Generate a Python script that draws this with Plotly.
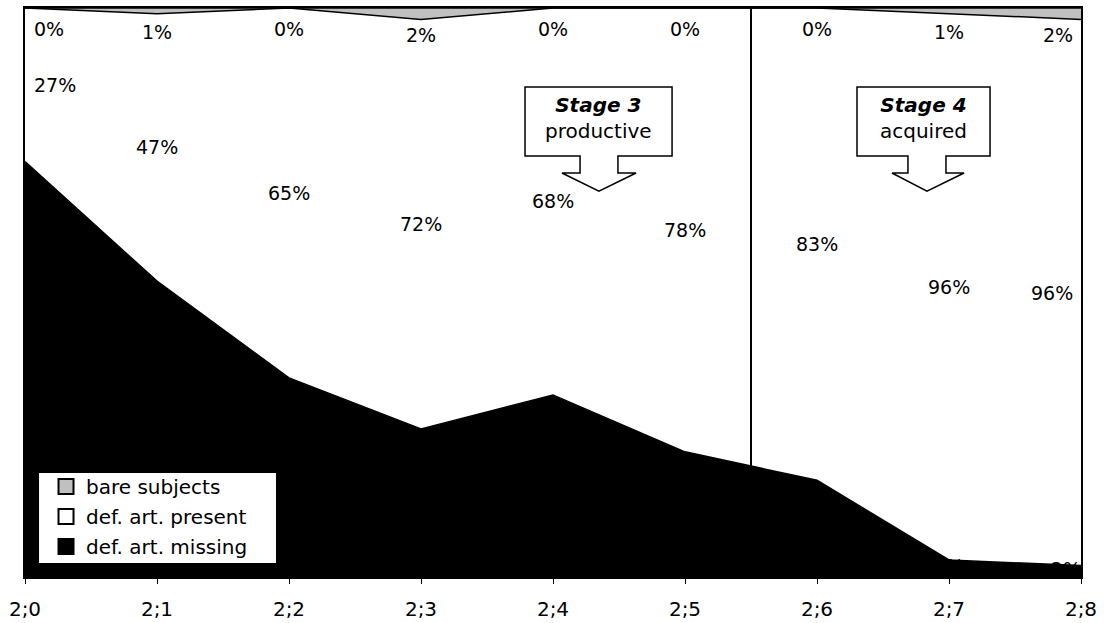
import plotly.graph_objects as go

# Age points (years;months)
ages = ["2;0", "2;1", "2;2", "2;3", "2;4", "2;5", "2;6", "2;7", "2;8"]

# Percentages per age
def_art_missing = [73, 52, 35, 26, 32, 22, 17, 3, 2]
def_art_present = [27, 47, 65, 72, 68, 78, 83, 96, 96]
bare_subjects = [0, 1, 0, 2, 0, 0, 0, 1, 2]

FONT = "DejaVu Sans"
xs = list(range(len(ages)))
n = len(ages)

fig = go.Figure()

# stacked areas, bottom to top
series = [
    ("def. art. missing", def_art_missing, "black"),
    ("def. art. present", def_art_present, "white"),
    ("bare subjects", bare_subjects, "#c0c0c0"),
]
for name, vals, color in series:
    fig.add_trace(go.Scatter(
        x=xs, y=vals, name=name, stackgroup="one", mode="lines",
        line=dict(color="black", width=1.5), fillcolor=color,
        showlegend=False, hoverinfo="skip",
    ))

# labels of the bottom band, drawn with the traces (black on black)
edge_pos = ["middle right"] + ["middle center"] * (n - 2) + ["middle left"]
fig.add_trace(go.Scatter(
    x=xs, y=[v / 2 for v in def_art_missing], mode="text",
    text=[f"{v}%" for v in def_art_missing], textposition=edge_pos,
    textfont=dict(family=FONT, size=19, color="black"),
    showlegend=False, hoverinfo="skip", cliponaxis=False,
))

# legend entries as square swatches, one group each for even row spacing
for name, vals, color in reversed(series):
    fig.add_trace(go.Scatter(
        x=[None], y=[None], name=name, mode="markers", legendgroup=name,
        marker=dict(symbol="square", size=15, color=color,
                    line=dict(color="black", width=2)),
        showlegend=True,
    ))

# value labels of the upper bands, centred in each band
annotations = []
base = list(def_art_missing)
for name, vals, color in series[1:]:
    for i, v in enumerate(vals):
        yc = base[i] + v / 2
        xanchor = "center"
        xshift = 0
        if i == 0:
            xanchor, xshift = "left", 7
        elif i == n - 1:
            xanchor, xshift = "right", -6
        yshift = -21 if name == "bare subjects" else 0
        annotations.append(dict(
            x=xs[i], y=yc, xref="x", yref="y", text=f"{v}%", showarrow=False,
            xanchor=xanchor, yanchor="middle", xshift=xshift, yshift=yshift,
            font=dict(family=FONT, size=19, color="black"),
        ))
        base[i] += v

# stage callouts (box with downward arrow)
def callout(x0, x1, sx0, sx1, hx0, hx1, tip, y_top, y_bot, y_stem, y_tip):
    return (f"M {x0},{y_top} L {x1},{y_top} L {x1},{y_bot} L {sx1},{y_bot} "
            f"L {sx1},{y_stem} L {hx1},{y_stem} L {tip},{y_tip} L {hx0},{y_stem} "
            f"L {sx0},{y_stem} L {sx0},{y_bot} L {x0},{y_bot} Z")

shapes = [
    dict(type="line", xref="x", yref="y", x0=5.5, x1=5.5, y0=0, y1=100,
         line=dict(color="black", width=2)),
    dict(type="path", xref="x", yref="y",
         path=callout(3.788, 4.902, 4.205, 4.492, 4.068, 4.629, 4.348,
                      86.1, 74.0, 71.0, 67.8),
         fillcolor="white", line=dict(color="black", width=1.5)),
    dict(type="path", xref="x", yref="y",
         path=callout(6.303, 7.311, 6.689, 6.977, 6.568, 7.114, 6.833,
                      86.1, 74.0, 71.0, 67.8),
         fillcolor="white", line=dict(color="black", width=1.5)),
    # white panel behind the legend
    dict(type="rect", xref="paper", yref="paper",
         x0=0.0133, x1=0.2377, y0=0.0246, y1=0.1828,
         fillcolor="white", line=dict(width=0)),
]

annotations += [
    dict(x=4.345, y=80.6, xref="x", yref="y", showarrow=False,
         text="<b><i>Stage 3</i></b><br>productive",
         font=dict(family=FONT, size=20, color="black"), align="center"),
    dict(x=6.807, y=80.6, xref="x", yref="y", showarrow=False,
         text="<b><i>Stage 4</i></b><br>acquired",
         font=dict(family=FONT, size=20, color="black"), align="center"),
]

fig.update_layout(
    width=1104, height=623,
    margin=dict(l=25, r=23, t=8, b=46),
    paper_bgcolor="white", plot_bgcolor="white",
    shapes=shapes, annotations=annotations,
    showlegend=True,
    legend=dict(x=0.0199, y=0.1933, xanchor="left", yanchor="top",
                bgcolor="rgba(0,0,0,0)", borderwidth=0,
                font=dict(family=FONT, size=20, color="black"),
                traceorder="grouped", tracegroupgap=1, itemsizing="trace"),
    xaxis=dict(range=[0, 8], tickvals=xs, ticktext=ages, showgrid=False,
               zeroline=False, showline=True, linecolor="black", linewidth=1.5,
               mirror=True, ticks="outside", ticklen=5, tickcolor="black",
               ticklabelstandoff=8, automargin=False,
               tickfont=dict(family=FONT, size=20, color="black")),
    yaxis=dict(range=[0, 100], showgrid=False, zeroline=False,
               showticklabels=False, showline=True, linecolor="black",
               linewidth=1.5, mirror=True, ticks="", automargin=False),
)

fig.write_html("out.html")
